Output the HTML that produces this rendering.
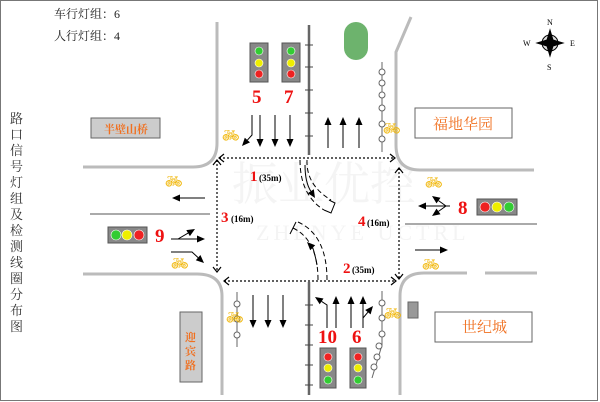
<!DOCTYPE html>
<html><head><meta charset="utf-8"><style>
body{margin:0;background:#fff}
svg{display:block}
text{font-family:"Liberation Serif","Noto Serif CJK SC",serif}
</style></head><body>
<svg width="600" height="402" viewBox="0 0 600 402" xmlns="http://www.w3.org/2000/svg">
<rect x="0.5" y="0.5" width="597" height="400" fill="#fff" stroke="#777"/>
<!-- watermark -->
<text x="232" y="200" font-size="46" fill="#f4f4f4" font-family="Liberation Sans,Noto Sans CJK SC,sans-serif">振业优控</text>
<text x="256" y="240" font-size="22" fill="#f4f4f4" font-family="Liberation Sans,sans-serif" letter-spacing="4">ZHENYE UCTRL</text>
<!-- curbs -->
<g stroke="#bbb" stroke-width="3" fill="none">
<path d="M217,22V143Q217,167 193,167H83"/>
<path d="M411,17L396,52V145Q396,170 420,170H534"/>
<path d="M83,274H197Q222,274 222,296V395"/>
<path d="M400,395V296Q400,273 424,273H467M485,273H537"/>
</g>
<!-- medians -->
<g stroke="#666" stroke-width="2.5"><line x1="309" y1="25" x2="309" y2="155"/><line x1="309" y1="282" x2="309" y2="395"/></g>
<g stroke="#444" stroke-width="1"><path d="M305,45h8M305,67h8M305,90h8M305,113h8M305,136h8M305,305h8M305,325h8M305,345h8M305,365h8M305,385h8"/></g>
<!-- lane lines -->
<g stroke="#555" stroke-width="1"><line x1="90" y1="214" x2="210" y2="214"/><line x1="405" y1="224" x2="537" y2="224"/></g>
<!-- dotted box -->
<g stroke="#000" stroke-width="1.2" stroke-dasharray="2,2" fill="none">
<line x1="219" y1="158" x2="395" y2="158"/>
<line x1="217" y1="160" x2="217" y2="272"/>
<line x1="224" y1="281" x2="396" y2="281"/>
<line x1="399" y1="168" x2="399" y2="279"/>
</g>
<g stroke="#000" stroke-width="1.2" fill="none">
<path d="M224,154L219,158L224,162M390,154L395,158L390,162M213,165L217,160L221,165M213,267L217,272L221,267M229,277L224,281L229,285M391,277L396,281L391,285M395,173L399,168L403,173M395,274L399,279L403,274"/>
</g>
<!-- turning dashed -->
<g stroke="#000" stroke-width="1" stroke-dasharray="5,3" fill="none">
<path d="M300,160Q300,195 324,210"/><path d="M307,160Q306,185 331,200"/>
<path d="M293,228Q318,240 318,280"/><path d="M298,222Q327,235 327,280"/>
</g>
<path d="M324,210L331,213L335,203L329,200" fill="none" stroke="#000"/>
<path d="M296,222L290,234L293,228" fill="none" stroke="#000"/>
<!-- arrows -->
<g stroke="#000" stroke-width="1" fill="none">
<path d="M305,165Q305,182 310.8,191.2"/><path d="M317,265Q315,254 312.7,247.7"/>
<line x1="260" y1="115" x2="260" y2="139"/><line x1="275" y1="115" x2="275" y2="139"/><line x1="290" y1="115" x2="290" y2="139"/>
<path d="M252,115V135L247.4,140.1"/>
<line x1="328" y1="148" x2="328" y2="125"/><line x1="343" y1="148" x2="343" y2="125"/><line x1="359" y1="148" x2="359" y2="125"/>
<line x1="253" y1="295" x2="253" y2="320"/><line x1="268" y1="295" x2="268" y2="320"/><line x1="283" y1="295" x2="283" y2="320"/>
<path d="M327,328V305L321.6,301.4"/><line x1="336" y1="328" x2="336" y2="304"/><line x1="351" y1="328" x2="351" y2="304"/><line x1="363" y1="328" x2="363" y2="304"/>
<path d="M363,318L367.9,312.2"/>
<line x1="205" y1="198" x2="180" y2="198"/>
<path d="M171,239H197"/><path d="M178,239L188.1,233.1"/>
<path d="M171,252H192L198.1,257.6"/>
<line x1="415" y1="250" x2="440" y2="250"/>
<line x1="450" y1="206" x2="426" y2="206"/><path d="M446,206L438.5,200.6"/><path d="M446,206L438.5,211.4"/>
</g>
<g fill="#000">
<polygon points="313.8,189.3 307.8,193.1 315,198"/><polygon points="315.2,245.2 310.2,250.2 307,242"/>
<polygon points="256.5,139 263.5,139 260,147"/><polygon points="271.5,139 278.5,139 275,147"/><polygon points="286.5,139 293.5,139 290,147"/>
<polygon points="250,142.4 244.8,137.8 242,146"/>
<polygon points="324.5,125 331.5,125 328,117"/><polygon points="339.5,125 346.5,125 343,117"/><polygon points="355.5,125 362.5,125 359,117"/>
<polygon points="249.5,320 256.5,320 253,328"/><polygon points="264.5,320 271.5,320 268,328"/><polygon points="279.5,320 286.5,320 283,328"/>
<polygon points="323.5,298.5 319.7,304.3 315,297"/>
<polygon points="332.5,304 339.5,304 336,296"/><polygon points="347.5,304 354.5,304 351,296"/><polygon points="359.5,304 366.5,304 363,296"/>
<polygon points="370.6,314.4 365.2,310 373,306"/>
<polygon points="180,194.5 180,201.5 172,198"/>
<polygon points="197,235.5 197,242.5 205,239"/><polygon points="189.9,236.1 186.3,230.1 195,229"/>
<polygon points="195.8,260.2 200.4,255 204,263"/>
<polygon points="440,246.5 440,253.5 448,250"/>
<polygon points="426,202.5 426,209.5 418,206"/>
<polygon points="440.5,197.8 436.5,203.4 432,196"/><polygon points="436.5,208.6 440.5,214.2 432,216"/>
</g>
<!-- signals -->
<g fill="#888" stroke="#555">
<rect x="250" y="43" width="18" height="39"/><rect x="282" y="43" width="18" height="39"/>
<rect x="320" y="348" width="16" height="40"/><rect x="350" y="348" width="16" height="40"/>
<rect x="108" y="227" width="39" height="16"/><rect x="477" y="199" width="40" height="16"/>
</g>
<g stroke="#fff" stroke-width=".6">
<circle cx="259" cy="51" r="4" fill="#3c3"/><circle cx="259" cy="63" r="4" fill="#ee0"/><circle cx="259" cy="74" r="4" fill="#e22"/>
<circle cx="291" cy="51" r="4" fill="#3c3"/><circle cx="291" cy="63" r="4" fill="#ee0"/><circle cx="291" cy="74" r="4" fill="#e22"/>
<circle cx="328" cy="357" r="4" fill="#e22"/><circle cx="328" cy="368" r="4" fill="#ee0"/><circle cx="328" cy="380" r="4" fill="#3c3"/>
<circle cx="358" cy="357" r="4" fill="#e22"/><circle cx="358" cy="368" r="4" fill="#ee0"/><circle cx="358" cy="380" r="4" fill="#3c3"/>
<circle cx="116" cy="235" r="5" fill="#3c3"/><circle cx="127" cy="235" r="5" fill="#ee0"/><circle cx="139" cy="235" r="5" fill="#e22"/>
<circle cx="485" cy="207" r="5" fill="#e22"/><circle cx="497" cy="207" r="5" fill="#ee0"/><circle cx="509" cy="207" r="5" fill="#3c3"/>
</g>
<!-- ped poles -->
<g stroke="#666" fill="#fff" stroke-width="1">
<line x1="382" y1="62" x2="382" y2="152"/>
<circle cx="382" cy="72" r="3"/><circle cx="382" cy="83" r="3"/><circle cx="382" cy="95" r="3"/><circle cx="382" cy="108" r="3"/><circle cx="382" cy="124" r="3"/><circle cx="382" cy="139" r="3"/>
<line x1="237" y1="292" x2="237" y2="347"/><circle cx="237" cy="304" r="3"/><circle cx="237" cy="319" r="3"/><circle cx="237" cy="335" r="3"/>
<path d="M382,291V345L372,378"/><circle cx="382" cy="303" r="3"/><circle cx="382" cy="318" r="3"/><circle cx="382" cy="334" r="3"/><circle cx="379" cy="346" r="3"/><circle cx="377" cy="357" r="3"/><circle cx="374" cy="367" r="3"/>
</g>
<!-- bikes -->
<g font-size="14" fill="#f0b400" font-family="DejaVu Sans,sans-serif">
<text x="165" y="186">🚲︎</text><text x="425" y="187">🚲︎</text><text x="171" y="268">🚲︎</text><text x="422" y="269">🚲︎</text>
<text x="222" y="140">🚲︎</text><text x="383" y="133">🚲︎</text><text x="226" y="322">🚲︎</text><text x="384" y="318">🚲︎</text>
</g>
<!-- green oval, box -->
<rect x="344" y="22" width="24" height="38" rx="12" fill="#6db36d"/>
<rect x="408" y="302" width="10" height="16" fill="#999" stroke="#666"/>
<!-- compass -->
<g stroke="#000" fill="#000"><circle cx="550" cy="43" r="8" fill="#ddd"/><path d="M550,30L553,40L563,43L553,46L550,56L547,46L537,43L547,40z"/></g>
<g font-family="Liberation Sans,sans-serif" font-size="8" fill="#000"><text x="547" y="25">N</text><text x="547" y="70">S</text><text x="523" y="46">W</text><text x="570" y="46">E</text></g>
<!-- labels -->
<rect x="91" y="118" width="69" height="20" fill="#ccc" stroke="#666"/>
<text x="104" y="133" font-size="11" fill="#f07020" font-weight="bold">半壁山桥</text>
<rect x="415" y="108" width="97" height="30" fill="#fff" stroke="#666"/>
<text x="433" y="129" font-size="15" fill="#f07020">福地华园</text>
<rect x="435" y="312" width="97" height="30" fill="#fff" stroke="#666"/>
<text x="462" y="332" font-size="15" fill="#f07020">世纪城</text>
<rect x="180" y="312" width="22" height="70" fill="#ccc" stroke="#666"/>
<text font-size="11" fill="#f07020" font-weight="bold"><tspan x="185" y="341">迎</tspan><tspan x="185" y="355">宾</tspan><tspan x="185" y="369">路</tspan></text>
<text x="54" y="18" font-size="12" fill="#222">车行灯组：6</text>
<text x="54" y="40" font-size="12" fill="#222">人行灯组：4</text>
<text font-size="13" fill="#333"><tspan x="10" y="123">路</tspan><tspan x="10" y="139">口</tspan><tspan x="10" y="155">信</tspan><tspan x="10" y="171">号</tspan><tspan x="10" y="187">灯</tspan><tspan x="10" y="203">组</tspan><tspan x="10" y="219">及</tspan><tspan x="10" y="235">检</tspan><tspan x="10" y="251">测</tspan><tspan x="10" y="267">线</tspan><tspan x="10" y="283">圈</tspan><tspan x="10" y="299">分</tspan><tspan x="10" y="315">布</tspan><tspan x="10" y="331">图</tspan></text>
<g fill="#e11" font-weight="bold" font-size="19"><text x="252" y="103">5</text><text x="284" y="103">7</text><text x="155" y="242">9</text><text x="458" y="214">8</text><text x="318" y="343">10</text><text x="352" y="343">6</text></g>
<g font-weight="bold"><text x="250" y="181" font-size="15" fill="#e11">1</text><text x="259" y="181" font-size="9">(35m)</text>
<text x="221" y="222" font-size="15" fill="#e11">3</text><text x="231" y="222" font-size="9">(16m)</text>
<text x="358" y="226" font-size="15" fill="#e11">4</text><text x="367" y="226" font-size="9">(16m)</text>
<text x="343" y="273" font-size="15" fill="#e11">2</text><text x="352" y="273" font-size="9">(35m)</text></g>
</svg>
</body></html>
